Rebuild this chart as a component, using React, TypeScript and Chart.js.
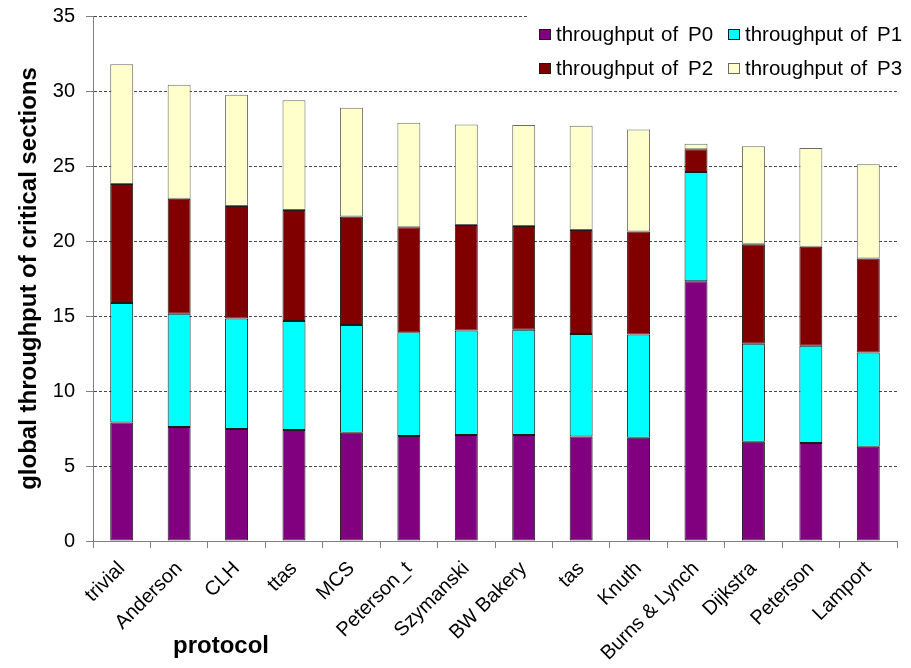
import React, { useEffect, useRef } from "react";
import { Chart, registerables } from "chart.js";

Chart.register(...registerables);

// Protocols on the x axis
const protocols = [
  "trivial",
  "Anderson",
  "CLH",
  "ttas",
  "MCS",
  "Peterson_t",
  "Szymanski",
  "BW Bakery",
  "tas",
  "Knuth",
  "Burns & Lynch",
  "Dijkstra",
  "Peterson",
  "Lamport",
];

// Throughput of critical sections per process
const throughputP0 = [7.9, 7.6, 7.47, 7.4, 7.22, 7.0, 7.07, 7.07, 6.96, 6.89, 17.31, 6.62, 6.53, 6.29];
const throughputP1 = [7.97, 7.55, 7.37, 7.27, 7.18, 6.91, 6.97, 7.02, 6.84, 6.87, 7.29, 6.53, 6.49, 6.27];
const throughputP2 = [7.93, 7.67, 7.49, 7.4, 7.24, 7.0, 7.03, 6.91, 6.93, 6.88, 1.51, 6.63, 6.6, 6.28];
const throughputP3 = [7.98, 7.6, 7.42, 7.31, 7.25, 6.98, 6.69, 6.73, 6.96, 6.8, 0.38, 6.53, 6.58, 6.27];

const seriesLabels = ["throughput of P0", "throughput of P1", "throughput of P2", "throughput of P3"];
const yTitle = "global throughput of critical sections";
const xTitle = "protocol";

const FONT = "'Liberation Sans', Arial, Helvetica, sans-serif";

const fills = ["#800080", "#00FFFF", "#800000", "#FFFFCC"];
const edges = ["#1a1a1a", "#1a1a1a", "#1a1a1a", "#6a6a6a"];

// Legend in the upper right corner plus the x-axis title
const overlayPlugin = {
  id: "overlay",
  afterDraw(chart: any) {
    const ctx = chart.ctx as CanvasRenderingContext2D;
    ctx.save();
    ctx.fillStyle = "#ffffff";
    ctx.fillRect(527, 6, 384, 78);

    const squareX = [539, 728];
    const textX = [556, 745];
    const baseY = [40.5, 74.5];
    const wordGaps = [7, 10];
    ctx.font = `20.5px ${FONT}`;
    ctx.textBaseline = "alphabetic";
    ctx.textAlign = "left";
    chart.data.datasets.forEach((ds: any, i: number) => {
      const col = i % 2;
      const row = Math.floor(i / 2);
      const sy = baseY[row] - 11.5;
      ctx.fillStyle = ds.backgroundColor;
      ctx.fillRect(squareX[col], sy, 12, 11);
      ctx.strokeStyle = ds.borderColor;
      ctx.lineWidth = 1;
      ctx.strokeRect(squareX[col] + 0.5, sy + 0.5, 11, 10);
      ctx.fillStyle = "#000";
      const words = String(ds.label).split(" ");
      let x = textX[col];
      words.forEach((w, k) => {
        ctx.fillText(w, x, baseY[row]);
        x += ctx.measureText(w).width + (wordGaps[k] ?? 0);
      });
    });

    ctx.font = `bold 24px ${FONT}`;
    ctx.fillStyle = "#000";
    ctx.fillText(xTitle, 173, 653);
    ctx.restore();
  },
};

export default function App() {
  const canvasRef = useRef<HTMLCanvasElement | null>(null);

  useEffect(() => {
    document.body.style.margin = "0";
    const canvas = canvasRef.current;
    if (!canvas) return;
    const series = [throughputP0, throughputP1, throughputP2, throughputP3];
    const chart = new Chart(canvas, {
      type: "bar",
      data: {
        labels: protocols,
        datasets: series.map((values, i) => ({
          label: seriesLabels[i],
          data: values,
          backgroundColor: fills[i],
          borderColor: edges[i],
          borderWidth: 1,
          borderSkipped: false,
          barPercentage: 0.4,
          categoryPercentage: 1.0,
        })),
      },
      options: {
        animation: false,
        responsive: false,
        devicePixelRatio: 1,
        layout: { padding: { left: 0, top: 16, right: 14, bottom: 0 } },
        plugins: {
          legend: { display: false },
          tooltip: { enabled: false },
          title: { display: false },
        },
        scales: {
          x: {
            stacked: true,
            offset: true,
            afterFit: (scale: any) => {
              scale.height = 127;
            },
            grid: {
              display: true,
              drawOnChartArea: false,
              drawTicks: true,
              tickLength: 7,
              color: "#808080",
              tickColor: "#808080",
              offset: true,
            },
            border: { display: true, color: "#808080", width: 1 },
            ticks: {
              autoSkip: false,
              maxRotation: 45,
              minRotation: 45,
              padding: 9,
              color: "#000",
              font: { family: FONT, size: 20 },
            },
          },
          y: {
            stacked: true,
            min: 0,
            max: 35,
            afterFit: (scale: any) => {
              scale.width = 93;
              scale.paddingTop = 0;
              scale.paddingBottom = 0;
            },
            ticks: {
              stepSize: 5,
              padding: 11,
              color: "#000",
              font: { family: FONT, size: 20 },
            },
            grid: {
              color: (c: any) => (c.tick && c.tick.value === 0 ? "rgba(0,0,0,0)" : "#4a4a4a"),
              lineWidth: 1,
              drawTicks: true,
              tickLength: 7,
              tickColor: "#808080",
              tickBorderDash: [],
            },
            border: { display: true, color: "#808080", width: 1, dash: [3, 2] },
            title: {
              display: true,
              text: yTitle,
              color: "#000",
              font: { family: FONT, size: 24, weight: "bold" },
              padding: { top: 15, bottom: 0 },
            },
          },
        },
      },
      plugins: [overlayPlugin],
    });
    return () => chart.destroy();
  }, []);

  return (
    <div style={{ position: "absolute", left: 0, top: 0, width: 911, height: 668, background: "#fff" }}>
      <canvas ref={canvasRef} width={911} height={668} />
    </div>
  );
}
